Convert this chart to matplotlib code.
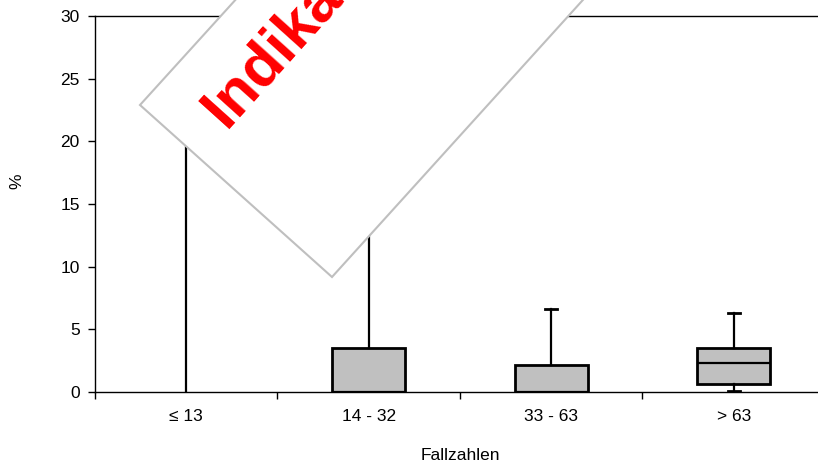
import matplotlib
matplotlib.use("Agg")
import matplotlib.pyplot as plt
from matplotlib.patches import Polygon

plt.rcParams['font.family'] = ['Liberation Sans', 'DejaVu Sans']

# Daten (aus dem Bild geschaetzt)
kategorien = ['≤ 13', '14 - 32', '33 - 63', '> 63']
q1 = [0.0, 0.0, 0.0, 0.6]
median = [0.0, 0.0, 0.0, 2.35]
q3 = [0.0, 3.5, 2.15, 3.55]
whisker_unten = [0.0, 0.0, 0.0, 0.05]
whisker_oben = [24.0, 18.0, 6.6, 6.3]

W, H = 818, 467
fig = plt.figure(figsize=(W / 100, H / 100), dpi=100)
ax = fig.add_axes([95 / W, 1 - 392 / H, (825 - 95) / W, (392 - 16) / H])

stats = []
for i, k in enumerate(kategorien):
    stats.append(dict(label=k, q1=q1[i], med=median[i], q3=q3[i],
                      whislo=whisker_unten[i], whishi=whisker_oben[i], fliers=[]))

bp = ax.bxp(stats, positions=range(1, len(kategorien) + 1), widths=0.4, capwidths=0.065,
            showfliers=False, patch_artist=True,
            boxprops=dict(facecolor='#c0c0c0', edgecolor='black', linewidth=2),
            medianprops=dict(color='black', linewidth=1.6),
            whiskerprops=dict(color='black', linewidth=1.6),
            capprops=dict(color='black', linewidth=2))

# Boxen ohne Hoehe (alles 0) nicht zeichnen
for i in range(len(kategorien)):
    if q3[i] - q1[i] == 0:
        bp['boxes'][i].set_visible(False)
        bp['medians'][i].set_visible(False)
    if whisker_unten[i] == q1[i]:
        bp['caps'][2 * i].set_visible(False)

ax.set_xlim(0.5, len(kategorien) + 0.5)
ax.set_ylim(0, 30)
ax.set_yticks([0, 5, 10, 15, 20, 25, 30])
ax.set_xticks([0.5, 1.5, 2.5, 3.5])
ax.set_xticklabels([])
ax.set_xticks(range(1, len(kategorien) + 1), minor=True)
ax.set_xticklabels(kategorien, minor=True)
ax.tick_params(axis='x', which='minor', length=0, labelsize=12.5, pad=12)
ax.tick_params(axis='x', which='major', length=5, width=1)
ax.tick_params(axis='y', length=5, width=1, labelsize=12.5, pad=6)
ax.spines['right'].set_visible(False)
for s in ['left', 'bottom', 'top']:
    ax.spines[s].set_linewidth(1)

ax.set_ylabel('%', fontsize=12.5, labelpad=0)
ax.yaxis.set_label_coords(-0.097, 0.56)
fig.text(460 / W, 1 - 455 / H, 'Fallzahlen', ha='center', va='center', fontsize=12.5)

# gedrehtes Hinweisschild
ecken = [(140, 105), (332, 277), (735, -168), (543, -339)]
schild = Polygon([(x / W, 1 - y / H) for x, y in ecken], closed=True,
                 facecolor='white', edgecolor='#bfbfbf', linewidth=1.5,
                 transform=fig.transFigure, zorder=10)
fig.add_artist(schild)
fig.text(226 / W, 1 - 129 / H, 'Indikator', color='#ff0000', fontsize=44,
         fontweight='bold', rotation=48, rotation_mode='anchor',
         ha='left', va='baseline', zorder=11)

fig.savefig('out.png', dpi=100)
